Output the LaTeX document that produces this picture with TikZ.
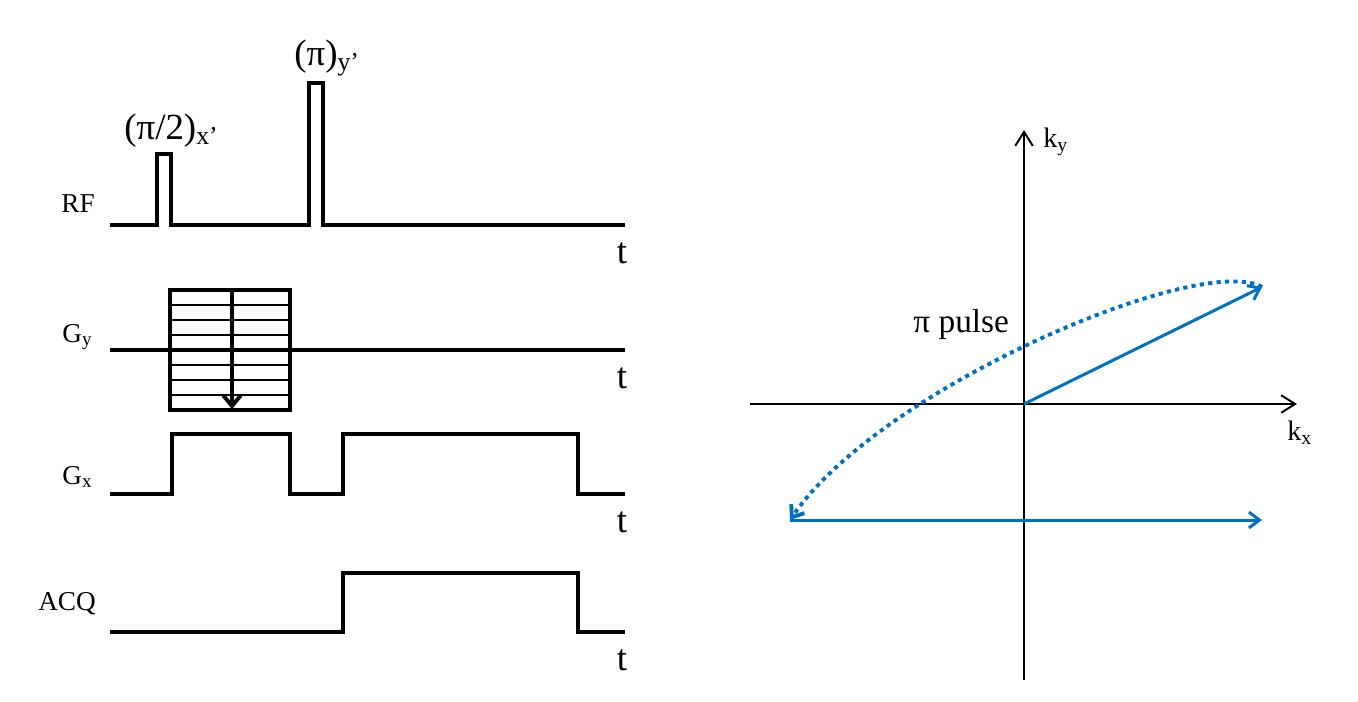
\documentclass[tikz,border=0pt]{standalone}
\usepackage{fontspec}
\setmainfont{Liberation Serif}
\usetikzlibrary{arrows.meta}
\definecolor{kblue}{RGB}{0,112,192}

\begin{document}
\begin{tikzpicture}[x=0.02cm, y=-0.02cm,
  sig/.style={line width=2.2pt, line join=miter},
  chlbl/.style={font=\fontsize{15.5}{18}\selectfont, inner sep=0pt},
  tlbl/.style={font=\fontsize{21}{24}\selectfont, inner sep=0pt, anchor=base},
  pulselbl/.style={font=\fontsize{21}{24}\selectfont, inner sep=0pt, anchor=base west},
  klbl/.style={font=\fontsize{16}{19}\selectfont, inner sep=0pt, anchor=base west},
  kaxis/.style={line width=1.1pt, -{Straight Barb[length=8pt, width=10pt]}},
  traj/.style={kblue, line width=1.7pt, -{Straight Barb[length=6pt, width=9pt]}}]

\useasboundingbox (0,0) rectangle (1358,701);

%---------------------------------------
% Timing of the sequence (pixels)
%---------------------------------------
\def\tS{110}   % start of all lines
\def\tE{625}   % end of all lines
\def\yRF{225}
\def\yGy{350}
\def\yGx{494}
\def\yAQ{632}

%====================================================
% LEFT PANEL: pulse sequence
%====================================================

% RF line with the two hard pulses
\draw[sig] (\tS,\yRF) -- (157,\yRF) -- (157,154) -- (171,154) -- (171,\yRF)
  -- (309,\yRF) -- (309,83) -- (323,83) -- (323,\yRF) -- (\tE,\yRF);
\node[chlbl, anchor=base] (rfLbl) at (78,212) {RF};
\node[tlbl] (tRF) at (622,263) {t};
\node[pulselbl] (p90Lbl) at (124,139) {(π/2)\textsubscript{x’}};
\node[pulselbl] (p180Lbl) at (294,65) {(π)\textsubscript{y’}};

% Phase encoding table
\draw[sig] (\tS,\yGy) -- (\tE,\yGy);
\foreach \ly in {305,320,...,395}
  \draw[line width=1.1pt] (170,\ly) -- (290,\ly);
\draw[sig] (170,290) rectangle (290,410);
\coordinate (gyTop) at (232,290);
\coordinate (gyBot) at (232,409);
\draw[sig, -{Straight Barb[length=6pt, width=10pt]}] (gyTop) -- (gyBot);
\node[chlbl, anchor=base west] (gyLbl) at (62,342) {G\textsubscript{y}};
\node[tlbl] (tGy) at (622,388) {t};

% Readout gradient
\draw[sig] (\tS,\yGx) -- (172,\yGx) -- (172,434) -- (290,434) -- (290,\yGx)
  -- (343,\yGx) -- (343,434) -- (578,434) -- (578,\yGx) -- (\tE,\yGx);
\node[chlbl, anchor=base west] (gxLbl) at (62,484) {G\textsubscript{x}};
\node[tlbl] (tGx) at (622,532) {t};

% Acquisition window
\draw[sig] (\tS,\yAQ) -- (343,\yAQ) -- (343,573) -- (578,573) -- (578,\yAQ) -- (\tE,\yAQ);
\node[chlbl, anchor=base] (aqLbl) at (67,610) {ACQ};
\node[tlbl] (tAQ) at (622,670) {t};

%====================================================
% RIGHT PANEL: k-space path
%====================================================
\coordinate (kxL) at (750,404);
\coordinate (kxR) at (1297,404);
\coordinate (kyB) at (1024,680);
\coordinate (kyT) at (1024,130);
\draw[kaxis] (kxL) -- (kxR);
\draw[kaxis] (kyB) -- (kyT);
\node[klbl] (kyLbl) at (1043,147) {k\textsubscript{y}};
\node[klbl] (kxLbl) at (1287,440) {k\textsubscript{x}};

\coordinate (k0) at (1024,404);
\coordinate (kA) at (1262,287);
\coordinate (kB) at (790,520);
\coordinate (kC) at (1262,520);

% dephasing, refocusing pulse, readout
\draw[traj] (k0) -- (kA);
\draw[traj, line width=2.2pt, dash pattern=on 2.4pt off 2.4pt]
  (kA) .. controls (1200,252) and (880,388) .. (kB);
\draw[traj] (kB) -- (kC);
\node[font=\fontsize{19}{22}\selectfont, inner sep=0pt, anchor=base west] (piLbl) at (913,332) {π pulse};

\end{tikzpicture}
\end{document}
